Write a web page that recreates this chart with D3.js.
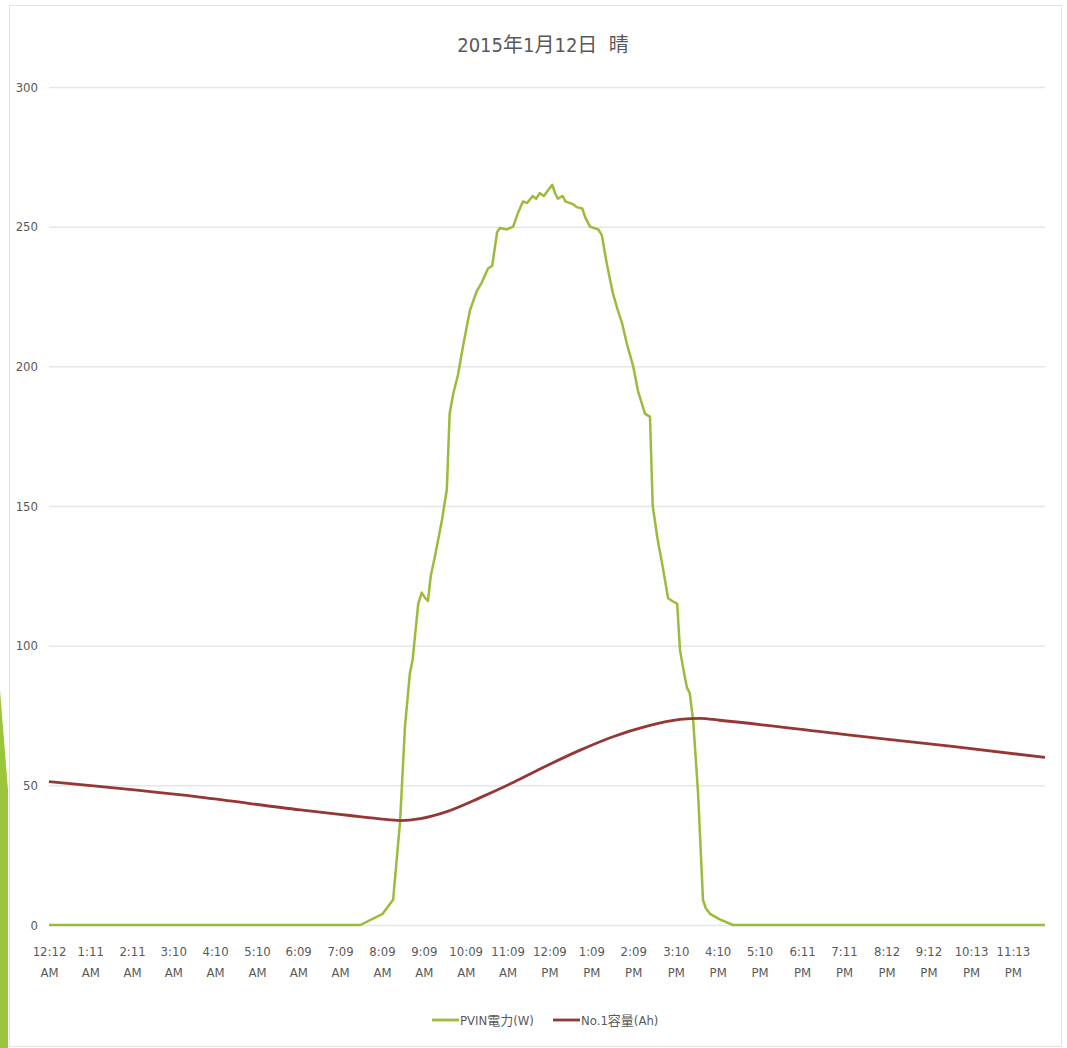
<!DOCTYPE html>
<html>
<head>
<meta charset="utf-8">
<script src="https://cdn.jsdelivr.net/npm/d3@7"></script>
<style>
  html, body { margin: 0; padding: 0; background: #fff; }
  svg { display: block; }
  text { font-family: "DejaVu Sans Condensed", "Noto Sans CJK JP", sans-serif; font-stretch: condensed; fill: #595959; }
</style>
</head>
<body>
<svg id="chart"></svg>
<script>
// 横軸は 0:00 からの経過分
const tickMinutes = [12, 71, 131, 190, 250, 310, 369, 429, 489, 549, 609, 669,
  729, 789, 849, 910, 970, 1030, 1091, 1151, 1212, 1272, 1333, 1393];
const tickLabels = ["12:12 AM", "1:11 AM", "2:11 AM", "3:10 AM", "4:10 AM", "5:10 AM",
  "6:09 AM", "7:09 AM", "8:09 AM", "9:09 AM", "10:09 AM", "11:09 AM",
  "12:09 PM", "1:09 PM", "2:09 PM", "3:10 PM", "4:10 PM", "5:10 PM",
  "6:11 PM", "7:11 PM", "8:12 PM", "9:12 PM", "10:13 PM", "11:13 PM"];

// PVIN電力(W)
const pvMinutes = [12, 458, 490, 505, 515, 522, 529, 533, 541, 546, 551, 555, 559, 565,
  575, 582, 586, 591, 598, 605, 615, 625, 632, 641, 647, 654, 658, 668, 677, 684,
  691, 697, 705, 710, 715, 721, 727, 733, 737, 741, 748, 752, 758, 763, 768, 776,
  780, 787, 799, 804, 811, 820, 827, 833, 840, 849, 856, 866, 873, 877, 884, 890,
  899, 905, 912, 916, 922, 926, 930, 935, 942, 949, 953, 959, 973, 992, 1439];
const pvWatts = [0, 0, 4, 9, 37, 71, 90, 95, 115, 119, 117, 116, 125, 132,
  145, 156, 183, 190, 197, 207, 220, 227, 230, 235, 236, 248, 249.5, 249, 250, 255,
  259, 258.5, 261, 260, 262, 261, 263, 265, 262, 260, 261, 259, 258.5, 258, 257, 256.5,
  253.5, 250, 249, 247, 237, 226, 220, 215.5, 208, 200, 191, 183, 182, 150, 138, 130,
  117, 116, 115, 98.5, 90, 85, 83, 73, 47, 9, 6, 4, 2, 0, 0];

// No.1容量(Ah)
const capMinutes = [12, 228, 372, 443, 486, 515, 544, 582, 629, 677, 725, 773, 820, 869, 916, 945, 973, 1160, 1303, 1439];
const capAh = [51.3, 45.8, 41.2, 39.2, 38.0, 37.4, 38.1, 40.6, 45.5, 51.0, 57.0, 62.6, 67.4, 71.2, 73.6, 74.0, 73.3, 68.0, 64.0, 60.0];

const yTicks = [0, 50, 100, 150, 200, 250, 300];
const seriesNames = ["PVIN電力(W)", "No.1容量(Ah)"];
const seriesColors = ["#9bbb3a", "#953735"];

const W = 1067, H = 1048;
const svg = d3.select("#chart").attr("width", W).attr("height", H);

// 枠と左の飾り
svg.append("rect")
  .attr("x", 9.5).attr("y", 5.5).attr("width", 1052).attr("height", 1041)
  .attr("fill", "none").attr("stroke", "#e3e3e3");
svg.append("path")
  .attr("d", "M0,690 L8,790 L8,1048 L0,1048 Z")
  .attr("fill", "#9bc53d");

const x = d3.scaleLinear().domain([12, 1439]).range([49, 1045]);
const y = d3.scaleLinear().domain([0, 300]).range([925, 87]);

// グリッドと縦軸
const yAxis = svg.append("g")
  .attr("transform", "translate(49,0)")
  .call(d3.axisLeft(y).tickValues(yTicks).tickSize(-(1045 - 49)).tickPadding(11));
yAxis.select(".domain").remove();
yAxis.selectAll(".tick line").attr("stroke", "#e6e6e6").attr("stroke-width", 1.5);
yAxis.selectAll(".tick text").style("font-size", "13px").attr("fill", "#595959");

// 横軸ラベル(2行)
const xAxis = svg.append("g")
  .attr("transform", "translate(0,925)")
  .call(d3.axisBottom(x).tickValues(tickMinutes).tickSize(0).tickFormat(""));
xAxis.select(".domain").remove();
xAxis.selectAll(".tick").each(function(d, i) {
  const parts = tickLabels[i].split(" ");
  const t = d3.select(this).select("text")
    .style("font-size", "13px").attr("fill", "#595959").attr("dy", null).attr("y", 0);
  t.append("tspan").attr("x", 0).attr("y", 31).text(parts[0]);
  t.append("tspan").attr("x", 0).attr("y", 52).text(parts[1]);
});

const line = d3.line().x(d => x(d[0])).y(d => y(d[1]));

svg.append("path")
  .datum(d3.zip(pvMinutes, pvWatts))
  .attr("fill", "none").attr("stroke", seriesColors[0]).attr("stroke-width", 2.5)
  .attr("stroke-linejoin", "round")
  .attr("d", line);

svg.append("path")
  .datum(d3.zip(capMinutes, capAh))
  .attr("fill", "none").attr("stroke", seriesColors[1]).attr("stroke-width", 2.8)
  .attr("stroke-linejoin", "round")
  .attr("d", line.curve(d3.curveMonotoneX));

// タイトル
svg.append("text")
  .attr("x", 543).attr("y", 52).attr("text-anchor", "middle")
  .style("font-size", "20px").style("white-space", "pre")
  .text("2015年1月12日  晴");

// 凡例
const legend = svg.append("g").attr("transform", "translate(432,1020)");
const legendX = [0, 121];
seriesNames.forEach((name, i) => {
  const g = legend.append("g").attr("transform", `translate(${legendX[i]},0)`);
  g.append("line").attr("x1", 0).attr("x2", 27).attr("y1", 0).attr("y2", 0)
    .attr("stroke", seriesColors[i]).attr("stroke-width", 2.8);
  g.append("text").attr("x", 28).attr("y", 5).style("font-size", "13px").text(name);
});
</script>
</body>
</html>
